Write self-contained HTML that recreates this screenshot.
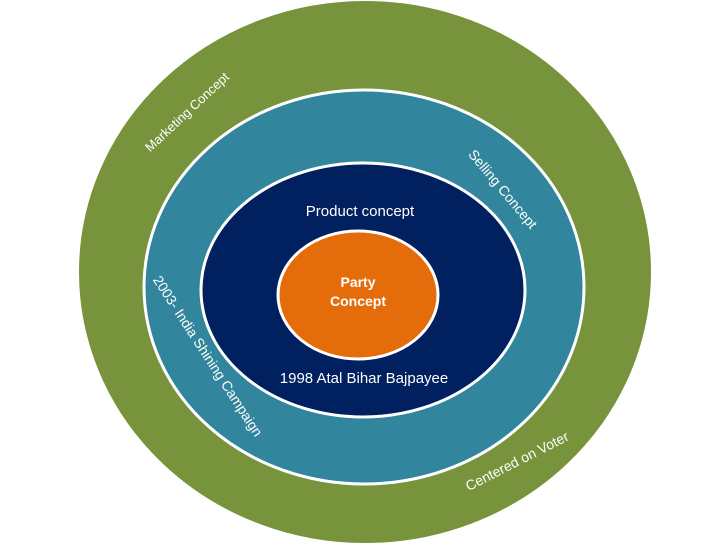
<!DOCTYPE html>
<html><head><meta charset="utf-8"><style>
html,body{margin:0;padding:0;background:#fff;}
svg{display:block;}
text{font-family:"Liberation Sans",sans-serif;fill:#fff;}
</style></head><body>
<svg width="728" height="546" viewBox="0 0 728 546">
<ellipse cx="365" cy="272" rx="287" ry="272" fill="#77933c" stroke="#fff" stroke-width="2"/>
<ellipse cx="364" cy="287" rx="220" ry="197" fill="#31859c" stroke="#fff" stroke-width="3"/>
<ellipse cx="363" cy="290" rx="162" ry="127" fill="#002060" stroke="#fff" stroke-width="3"/>
<ellipse cx="358" cy="295" rx="80" ry="64" fill="#e46c0a" stroke="#fff" stroke-width="3"/>
<text x="360" y="216" font-size="15" text-anchor="middle">Product concept</text>
<text x="358" y="287" font-size="14" font-weight="bold" text-anchor="middle">Party</text>
<text x="358" y="306" font-size="14" font-weight="bold" text-anchor="middle">Concept</text>
<text x="364" y="383" font-size="15" text-anchor="middle">1998 Atal Bihar Bajpayee</text>
<text transform="translate(187,112) rotate(-43)" font-size="13" text-anchor="middle" dominant-baseline="central">Marketing Concept</text>
<text transform="translate(503,189) rotate(50)" font-size="14" text-anchor="middle" dominant-baseline="central">Selling Concept</text>
<text transform="translate(208,356) rotate(57)" font-size="14" text-anchor="middle" dominant-baseline="central">2003- India Shining Campaign</text>
<text transform="translate(517,461) rotate(-27)" font-size="14" text-anchor="middle" dominant-baseline="central">Centered on Voter</text>
</svg>
</body></html>
